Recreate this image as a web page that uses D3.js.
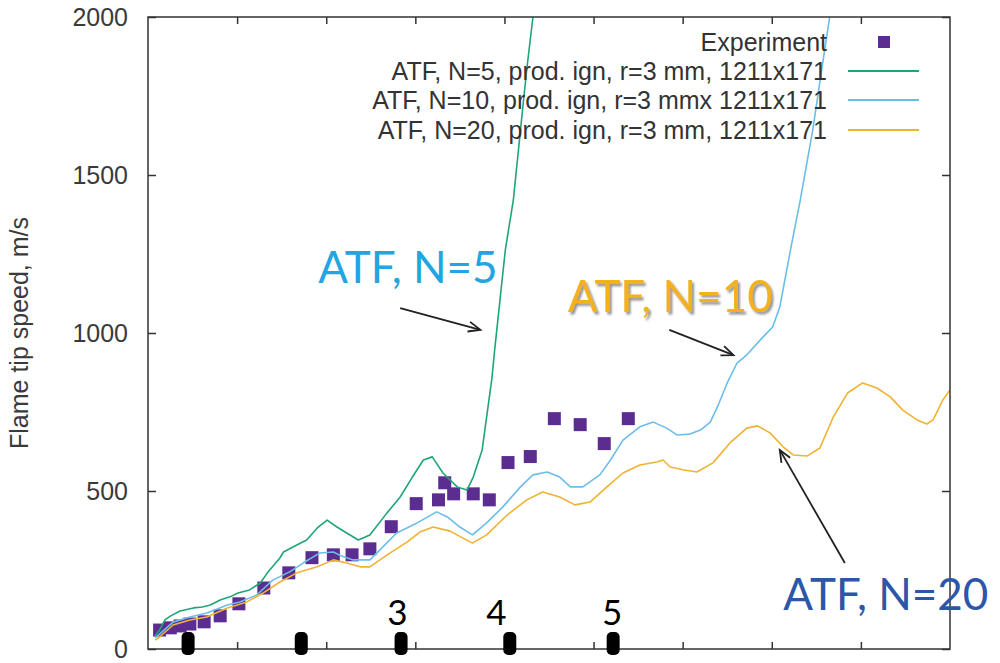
<!DOCTYPE html>
<html>
<head>
<meta charset="utf-8">
<script src="https://cdnjs.cloudflare.com/ajax/libs/d3/7.8.5/d3.min.js"></script>
<style>
body { margin: 0; background: #fff; }
</style>
</head>
<body>
<div id="chart"></div>
<script>
// experiment points
var expX = [0.13,0.25,0.36,0.47,0.63,0.81,1.02,1.30,1.58,1.84,2.08,2.29,2.49,2.73,3.01,3.26,3.33,3.43,3.65,3.83,4.04,4.29,4.56,4.85,5.12,5.39];
var expV = [60,67,73,79,86,105,143,193,241,289,298,298,317,387,460,472,526,491,491,472,590,609,729,710,650,729];

// ATF, N=5
var n5X = [0.08,0.13,0.19,0.25,0.36,0.51,0.61,0.70,0.81,0.92,1.01,1.14,1.26,1.34,1.48,1.52,1.67,1.78,1.90,2.01,2.12,2.23,2.36,2.49,2.68,2.83,2.96,3.09,3.19,3.31,3.47,3.58,3.65,3.75,3.80,3.86,3.89,3.95,4.01,4.10,4.18,4.25,4.32,4.35];
var n5V = [41,60,92,104,120,130,133,139,155,165,177,187,209,241,288,307,329,345,383,408,386,367,345,361,430,481,541,598,608,557,513,503,544,630,734,858,946,1105,1263,1421,1643,1833,2000,2086];

// ATF, N=10
var n10X = [0.08,0.13,0.28,0.47,0.66,0.89,1.03,1.22,1.40,1.59,1.74,1.93,2.08,2.15,2.30,2.49,2.60,2.79,3.02,3.24,3.36,3.50,3.64,3.80,3.98,4.18,4.32,4.48,4.62,4.74,4.88,5.07,5.19,5.33,5.52,5.67,5.82,5.94,6.08,6.20,6.31,6.39,6.50,6.61,6.72,6.90,7.01,7.09,7.21,7.32,7.40,7.46,7.56,7.65,7.69];
var n10V = [35,47,85,101,114,139,149,171,218,244,272,304,307,297,282,282,313,367,399,434,418,386,361,399,449,513,551,560,544,513,513,551,598,661,703,718,699,677,680,693,718,766,842,905,931,987,1019,1082,1263,1421,1548,1643,1833,2000,2070];

// ATF, N=20
var n20X = [0.08,0.13,0.28,0.47,0.66,0.89,1.11,1.29,1.48,1.67,1.90,2.08,2.23,2.38,2.49,2.68,2.91,3.05,3.20,3.39,3.64,3.80,4.03,4.25,4.43,4.62,4.79,4.96,5.15,5.33,5.52,5.71,5.78,5.86,6.00,6.16,6.34,6.53,6.72,6.84,6.98,7.13,7.24,7.40,7.54,7.69,7.85,8.02,8.18,8.33,8.47,8.63,8.74,8.81,8.92,9.00];
var n20V = [28,38,76,92,101,130,149,177,212,241,260,282,272,260,260,297,339,370,386,373,335,361,424,472,497,481,456,465,513,557,582,592,598,576,567,560,589,652,699,706,684,639,614,611,636,734,810,842,826,798,756,725,712,725,788,820];

var yTicks = [0,500,1000,1500,2000];
var xTicks = [1,2,3,4,5,6,7,8];

// position markers along the bottom and their numbers
var markX = [0.45,1.72,2.84,4.06,5.22];
var markLabels = ["3","4","5"];
var markLabelX = [2.80,3.91,5.21];

var legendNames = ["Experiment",
	"ATF, N=5, prod. ign, r=3 mm, 1211x171",
	"ATF, N=10, prod. ign, r=3 mmx 1211x171",
	"ATF, N=20, prod. ign, r=3 mm, 1211x171"];

var colExp = "#5c2d91", col5 = "#1fa57a", col10 = "#6dbde9", col20 = "#f0b232";

var width = 1000, height = 663;
var pLeft = 148, pRight = 950, pTop = 17, pBottom = 649;

var x = d3.scaleLinear().domain([0, 9]).range([pLeft, pRight]);
var y = d3.scaleLinear().domain([0, 2000]).range([pBottom, pTop]);

var svg = d3.select("#chart").append("svg")
	.attr("width", width)
	.attr("height", height)
	.style("font-family", "'Liberation Sans', Arial, sans-serif");

var defs = svg.append("defs");
defs.append("clipPath").attr("id", "clip")
	.append("rect")
	.attr("x", pLeft).attr("y", pTop)
	.attr("width", pRight - pLeft).attr("height", pBottom - pTop);
defs.append("marker")
	.attr("id", "arrow")
	.attr("markerUnits", "userSpaceOnUse")
	.attr("markerWidth", 16).attr("markerHeight", 14)
	.attr("refX", 13).attr("refY", 6)
	.attr("orient", "auto")
	.append("path")
	.attr("d", "M1,1 L13,6 L1,11")
	.attr("fill", "none")
	.attr("stroke", "#222")
	.attr("stroke-width", 1.8);
var shadow = defs.append("filter").attr("id", "shadow")
	.attr("x", "-10%").attr("y", "-10%").attr("width", "130%").attr("height", "140%");
shadow.append("feDropShadow")
	.attr("dx", 2).attr("dy", 2.5)
	.attr("stdDeviation", 1.2)
	.attr("flood-color", "#777")
	.attr("flood-opacity", 0.8);

// ticks, all pointing inward
var axL = svg.append("g").attr("transform", "translate(" + pLeft + ",0)")
	.call(d3.axisLeft(y).tickValues(yTicks).tickSize(-8).tickPadding(20));
axL.selectAll("text").style("font-size", "25px").attr("fill", "#3a3a3a");
var axR = svg.append("g").attr("transform", "translate(" + pRight + ",0)")
	.call(d3.axisRight(y).tickValues(yTicks).tickSize(-8).tickFormat(""));
var axB = svg.append("g").attr("transform", "translate(0," + pBottom + ")")
	.call(d3.axisBottom(x).tickValues(xTicks).tickSize(-7).tickFormat(""));
var axT = svg.append("g").attr("transform", "translate(0," + pTop + ")")
	.call(d3.axisTop(x).tickValues(xTicks).tickSize(-7).tickFormat(""));
svg.selectAll(".domain").remove();
svg.selectAll(".tick line").attr("stroke", "#333").attr("stroke-width", 1.5);
axL.selectAll("text").text(function(d) { return d; });

svg.append("text")
	.attr("transform", "translate(28," + ((pTop + pBottom) / 2) + ") rotate(-90)")
	.attr("text-anchor", "middle")
	.style("font-size", "25px")
	.attr("fill", "#3a3a3a")
	.text("Flame tip speed, m/s");

// experiment squares
var expData = expX.map(function(d, i) { return {x: d, v: expV[i]}; });
svg.append("g").selectAll("rect")
	.data(expData)
	.enter()
	.append("rect")
	.attr("x", function(d) { return x(d.x) - 6.5; })
	.attr("y", function(d) { return y(d.v) - 6.5; })
	.attr("width", 13)
	.attr("height", 13)
	.attr("fill", colExp);

// simulation lines
var line = d3.line()
	.x(function(d) { return x(d[0]); })
	.y(function(d) { return y(d[1]); });
var series = [
	{xs: n5X, vs: n5V, c: col5},
	{xs: n10X, vs: n10V, c: col10},
	{xs: n20X, vs: n20V, c: col20}
];
var lines = svg.append("g").attr("clip-path", "url(#clip)");
series.forEach(function(s) {
	lines.append("path")
		.datum(s.xs.map(function(d, i) { return [d, s.vs[i]]; }))
		.attr("d", line)
		.attr("fill", "none")
		.attr("stroke", s.c)
		.attr("stroke-width", 1.6)
		.attr("stroke-linejoin", "round");
});

// frame
svg.append("rect")
	.attr("x", pLeft).attr("y", pTop)
	.attr("width", pRight - pLeft).attr("height", pBottom - pTop)
	.attr("fill", "none")
	.attr("stroke", "#333")
	.attr("stroke-width", 1.5);

// legend
var legX = 827, legY = [42, 71, 100, 130];
var leg = svg.append("g");
legendNames.forEach(function(n, i) {
	leg.append("text")
		.attr("x", legX).attr("y", legY[i] + 9)
		.attr("text-anchor", "end")
		.style("font-size", "25px")
		.attr("fill", "#333")
		.text(n);
});
leg.append("rect")
	.attr("x", 878).attr("y", legY[0] - 6)
	.attr("width", 12).attr("height", 12)
	.attr("fill", colExp);
[col5, col10, col20].forEach(function(c, i) {
	leg.append("line")
		.attr("x1", 848).attr("x2", 919)
		.attr("y1", legY[i + 1]).attr("y2", legY[i + 1])
		.attr("stroke", c)
		.attr("stroke-width", 2);
});

// bottom markers and labels
svg.append("g").selectAll("rect")
	.data(markX)
	.enter()
	.append("rect")
	.attr("x", function(d) { return x(d) - 6.5; })
	.attr("y", pBottom - 17)
	.attr("width", 13)
	.attr("height", 23)
	.attr("rx", 5)
	.attr("fill", "#000");
svg.append("g").selectAll("text")
	.data(markLabels)
	.enter()
	.append("text")
	.attr("x", function(d, i) { return x(markLabelX[i]); })
	.attr("y", pBottom - 24)
	.attr("text-anchor", "middle")
	.style("font-family", "Lato, 'Open Sans', sans-serif")
	.style("font-size", "35px")
	.attr("fill", "#000")
	.text(function(d) { return d; });

// annotations
var notes = [
	{t: "ATF, N=5", x: 1.91, v: 1158, c: "#22a5e1", sh: false, ax1: 2.83, av1: 1079, ax2: 3.73, av2: 1010},
	{t: "ATF, N=10", x: 4.71, v: 1067, c: "#f3b11d", sh: true, ax1: 5.85, av1: 1010, ax2: 6.57, av2: 930},
	{t: "ATF, N=20", x: 7.13, v: 123, c: "#2c56a8", sh: false, ax1: 7.82, av1: 272, ax2: 7.09, av2: 630}
];
notes.forEach(function(n) {
	var t = svg.append("text")
		.attr("x", x(n.x)).attr("y", y(n.v))
		.style("font-family", "Lato, 'Open Sans', sans-serif")
		.style("font-size", "44px")
		.attr("fill", n.c)
		.text(n.t);
	if (n.sh) t.attr("filter", "url(#shadow)");
	svg.append("line")
		.attr("x1", x(n.ax1)).attr("y1", y(n.av1))
		.attr("x2", x(n.ax2)).attr("y2", y(n.av2))
		.attr("stroke", "#222")
		.attr("stroke-width", 1.8)
		.attr("marker-end", "url(#arrow)");
});
</script>
</body>
</html>
